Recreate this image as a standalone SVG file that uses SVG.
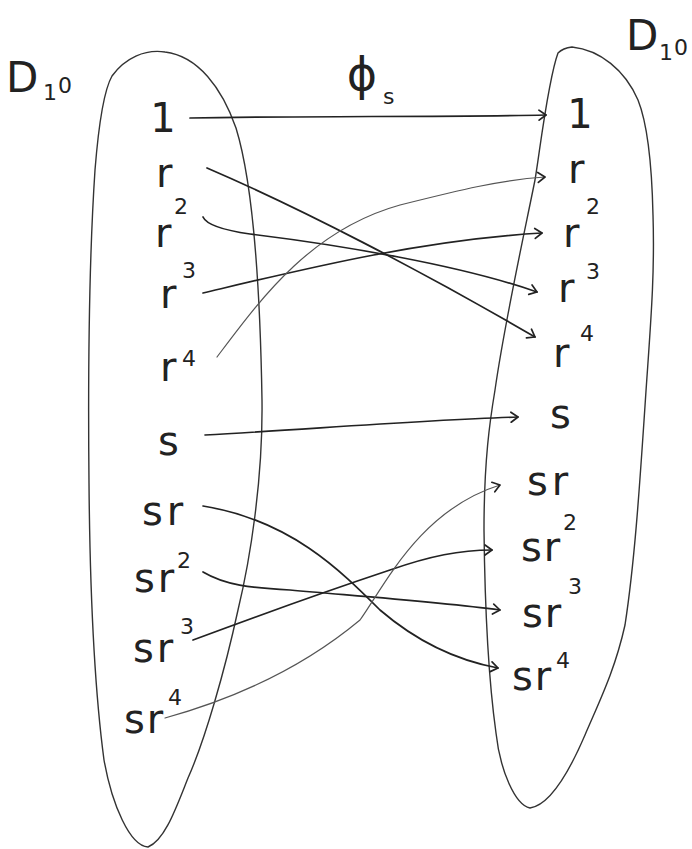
<svg xmlns="http://www.w3.org/2000/svg" width="692" height="849" viewBox="0 0 692 849">
<defs>
<style>
.blob{fill:none;stroke:#333;stroke-width:1.4;stroke-linejoin:round}
.t{font-family:"DejaVu Sans","Liberation Sans",sans-serif;font-size:40px;fill:#222}
.sup{font-size:22px}
.big{font-size:42px}
.edge{fill:none;stroke:#222;stroke-width:1.7;stroke-linecap:round;marker-end:url(#ah)}
.light{stroke:#555;stroke-width:1.2}
</style>
<marker id="ah" markerUnits="userSpaceOnUse" markerWidth="14" markerHeight="14" refX="0" refY="0" viewBox="-10 -7 14 14" orient="auto">
<path d="M-7,-5 L0,0 L-7,5" fill="none" stroke="#222" stroke-width="1.7" stroke-linecap="round" stroke-linejoin="round"/>
</marker>
</defs>
<rect width="692" height="849" fill="#fff"/>

<g id="domain-left">
<path class="blob" d="M112,76 C125,58 145,49 165,52 C198,56 222,88 236,128 C252,180 260,280 262,400 C263,480 250,560 238,610 C225,670 205,740 188,778 C176,808 165,840 148,847 C130,846 112,805 104,760 C96,700 90,600 89,483 C88,380 89,260 95,170 C99,120 104,90 112,76 Z"/>
<text class="t big" x="6" y="92">D</text>
<text class="t sup" x="43" y="100">1</text>
<text class="t sup" x="58" y="93">0</text>
</g>
<g id="domain-right">
<path class="blob" d="M558,53 Q563,48 572,47 C600,50 625,70 638,100 C648,125 652,170 653,215 C655,280 650,330 645,406 C640,480 635,560 625,625 C615,670 600,700 585,735 C570,770 550,805 530,808 C515,805 500,770 496,733 C490,690 485,620 484,530 C484,460 490,420 495,390 C505,320 525,230 535,180 C540,150 548,80 558,53 Z"/>
<text class="t big" x="626" y="50">D</text>
<text class="t sup" x="659" y="60">1</text>
<text class="t sup" x="674" y="55">0</text>
</g>
<g id="map-label">
<text class="t" x="362" y="90" style="font-size:46px" text-anchor="middle">ϕ</text>
<text class="t" x="383" y="104" style="font-size:22px">s</text>
</g>

<g id="L-1"><text class="t" x="163" y="132" text-anchor="middle">1</text></g>
<g id="L-r"><text class="t" x="156" y="187">r</text></g>
<g id="L-r2"><text class="t" x="155" y="247">r<tspan class="sup" x="174" y="214">2</tspan></text></g>
<g id="L-r3"><text class="t" x="160" y="308">r<tspan class="sup" x="182" y="278">3</tspan></text></g>
<g id="L-r4"><text class="t" x="160" y="381">r<tspan class="sup" x="182" y="366">4</tspan></text></g>
<g id="L-s"><text class="t" x="158" y="455">s</text></g>
<g id="L-sr"><text class="t" x="142" y="525" letter-spacing="4">sr</text></g>
<g id="L-sr2"><text class="t" x="134" y="592" letter-spacing="3">sr<tspan class="sup" x="177" y="568">2</tspan></text></g>
<g id="L-sr3"><text class="t" x="133" y="662" letter-spacing="3">sr<tspan class="sup" x="180" y="634">3</tspan></text></g>
<g id="L-sr4"><text class="t" x="124" y="733" letter-spacing="2">sr<tspan class="sup" x="168" y="705">4</tspan></text></g>

<g id="R-1"><text class="t" x="580" y="128" text-anchor="middle">1</text></g>
<g id="R-r"><text class="t" x="568" y="183">r</text></g>
<g id="R-r2"><text class="t" x="563" y="247">r<tspan class="sup" x="586" y="214">2</tspan></text></g>
<g id="R-r3"><text class="t" x="558" y="302">r<tspan class="sup" x="586" y="279">3</tspan></text></g>
<g id="R-r4"><text class="t" x="553" y="367">r<tspan class="sup" x="580" y="341">4</tspan></text></g>
<g id="R-s"><text class="t" x="550" y="428">s</text></g>
<g id="R-sr"><text class="t" x="527" y="495" letter-spacing="4">sr</text></g>
<g id="R-sr2"><text class="t" x="521" y="561" letter-spacing="2">sr<tspan class="sup" x="563" y="530">2</tspan></text></g>
<g id="R-sr3"><text class="t" x="522" y="627" letter-spacing="2">sr<tspan class="sup" x="568" y="594">3</tspan></text></g>
<g id="R-sr4"><text class="t" x="512" y="690" letter-spacing="2">sr<tspan class="sup" x="556" y="668">4</tspan></text></g>

<g id="connectors">
<path class="edge" d="M190,118 C300,116 450,117 546,115"/>
<path class="edge" d="M207,168 C300,208 420,270 535,337"/>
<path class="edge" d="M203,217 Q208,228 250,234 C340,245 460,265 537,292"/>
<path class="edge" d="M203,293 C300,270 420,240 542,233"/>
<path class="edge light" d="M217,357 C260,300 310,230 400,205 C460,190 500,180 545,177"/>
<path class="edge" d="M205,435 C300,430 420,420 518,417"/>
<path class="edge" d="M203,506 C290,520 340,570 380,610 C415,640 455,660 498,668"/>
<path class="edge" d="M203,572 C225,585 250,588 290,590 C370,597 440,602 500,610"/>
<path class="edge" d="M193,640 C260,615 330,590 390,570 C430,556 460,550 492,550"/>
<path class="edge light" d="M165,718 C230,700 300,670 360,620 C385,585 420,510 500,485"/>
</g>
</svg>
